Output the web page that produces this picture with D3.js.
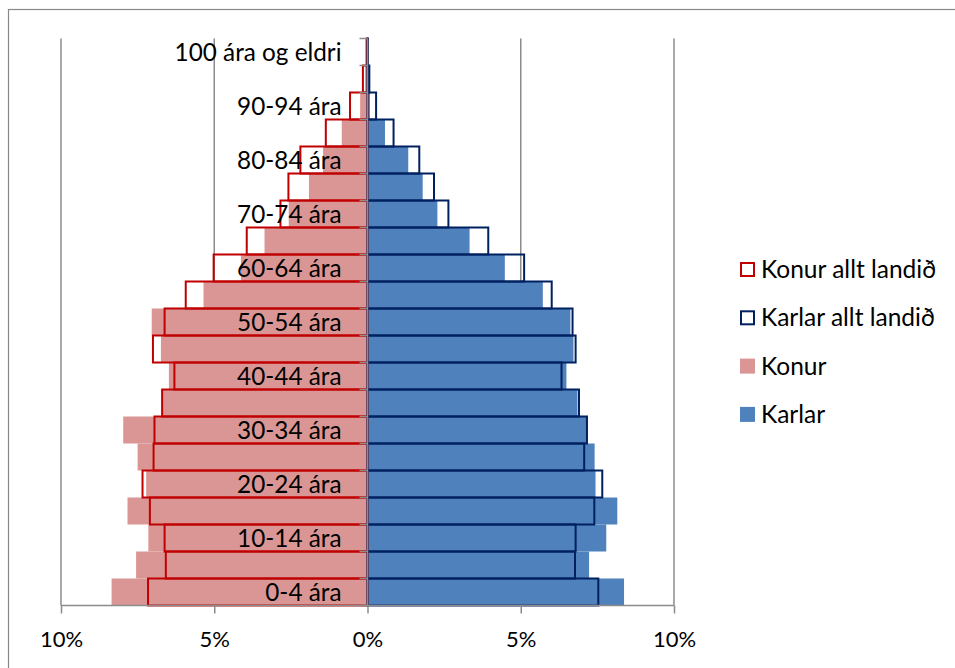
<!DOCTYPE html>
<html>
<head>
<meta charset="utf-8">
<script src="https://cdn.jsdelivr.net/npm/d3@7"></script>
<style>
  body { margin: 0; background: #fff; }
  svg { display: block; font-family: Lato, "Open Sans", sans-serif; }
</style>
</head>
<body>
<div id="root"></div>
<script>
// age groups, youngest first
const ageGroups = [
  "0-4 ára", "5-9 ára", "10-14 ára", "15-19 ára", "20-24 ára", "25-29 ára",
  "30-34 ára", "35-39 ára", "40-44 ára", "45-49 ára", "50-54 ára", "55-59 ára",
  "60-64 ára", "65-69 ára", "70-74 ára", "75-79 ára", "80-84 ára", "85-89 ára",
  "90-94 ára", "95-99 ára", "100 ára og eldri",
];

// percent of population in each group
const konur = [
  8.35, 7.55, 7.15, 7.83, 7.22, 7.50, 7.97, 6.72, 6.48, 6.74, 7.04,
  5.35, 4.13, 3.36, 2.57, 1.91, 1.45, 0.84, 0.24, 0.08, 0.01,
];
const karlar = [
  8.37, 7.23, 7.79, 8.15, 7.44, 7.41, 7.14, 6.85, 6.49, 6.72, 6.62,
  5.72, 4.48, 3.33, 2.28, 1.80, 1.33, 0.57, 0.08, 0.02, 0.00,
];
const konurAllt = [
  7.16, 6.58, 6.62, 7.10, 7.34, 6.98, 6.95, 6.70, 6.30, 7.00, 6.62,
  5.93, 5.02, 3.94, 2.84, 2.58, 2.19, 1.36, 0.57, 0.15, 0.03,
];
const karlarAllt = [
  7.53, 6.77, 6.79, 7.40, 7.66, 7.07, 7.16, 6.90, 6.33, 6.79, 6.69,
  6.01, 5.11, 3.94, 2.64, 2.17, 1.69, 0.85, 0.28, 0.06, 0.01,
];

const xTicks = [-10, -5, 0, 5, 10];

const legendItems = [
  { label: "Konur allt landið", fill: "none", stroke: "#C00000" },
  { label: "Karlar allt landið", fill: "none", stroke: "#002060" },
  { label: "Konur", fill: "#DA9694", stroke: "none" },
  { label: "Karlar", fill: "#4F81BD", stroke: "none" },
];

const width = 955;
const height = 668;
const plot = { left: 61, right: 674, top: 38.5, bottom: 605.5 };
const axisGrey = "#8C8C8C";

const x = d3.scaleLinear([-10, 10], [plot.left, plot.right]);
const y = d3.scaleBand(ageGroups, [plot.bottom, plot.top]).padding(0);

const svg = d3.select("#root").append("svg")
  .attr("width", width)
  .attr("height", height);

// chart frame
svg.append("rect")
  .attr("x", 8.5)
  .attr("y", 9.5)
  .attr("width", width + 20)
  .attr("height", height + 20)
  .attr("fill", "none")
  .attr("stroke", "#888")
  .attr("stroke-width", 1.2);

// vertical gridlines
svg.append("g")
  .selectAll("line")
  .data(xTicks.filter(d => d !== 0))
  .join("line")
  .attr("x1", d => x(d))
  .attr("x2", d => x(d))
  .attr("y1", plot.top)
  .attr("y2", plot.bottom)
  .attr("stroke", axisGrey)
  .attr("stroke-width", 1.5);

const rows = ageGroups.map((g, i) => ({
  group: g,
  konur: konur[i],
  karlar: karlar[i],
  konurAllt: konurAllt[i],
  karlarAllt: karlarAllt[i],
}));

// filled bars
svg.append("g")
  .selectAll("rect")
  .data(rows)
  .join("rect")
  .attr("x", d => x(-d.konur))
  .attr("y", d => y(d.group))
  .attr("width", d => x(0) - x(-d.konur))
  .attr("height", y.bandwidth())
  .attr("fill", "#DA9694");

svg.append("g")
  .selectAll("rect")
  .data(rows)
  .join("rect")
  .attr("x", x(0))
  .attr("y", d => y(d.group))
  .attr("width", d => x(d.karlar) - x(0))
  .attr("height", y.bandwidth())
  .attr("fill", "#4F81BD");

// whole-country outlines
svg.append("g")
  .selectAll("rect")
  .data(rows)
  .join("rect")
  .attr("x", d => x(-d.konurAllt))
  .attr("y", d => y(d.group))
  .attr("width", d => x(0) - x(-d.konurAllt))
  .attr("height", y.bandwidth())
  .attr("fill", "none")
  .attr("stroke", "#C00000")
  .attr("stroke-width", 2);

svg.append("g")
  .selectAll("rect")
  .data(rows)
  .join("rect")
  .attr("x", x(0))
  .attr("y", d => y(d.group))
  .attr("width", d => x(d.karlarAllt) - x(0))
  .attr("height", y.bandwidth())
  .attr("fill", "none")
  .attr("stroke", "#002060")
  .attr("stroke-width", 2);

// category axis at zero
const yAxis = svg.append("g");
yAxis.append("line")
  .attr("x1", x(0))
  .attr("x2", x(0))
  .attr("y1", plot.top)
  .attr("y2", plot.bottom)
  .attr("stroke", axisGrey)
  .attr("stroke-width", 1.5);

yAxis.selectAll("line.tick")
  .data(ageGroups.map(g => y(g)).concat([plot.bottom]))
  .join("line")
  .attr("class", "tick")
  .attr("x1", x(0) - 8)
  .attr("x2", x(0))
  .attr("y1", d => d)
  .attr("y2", d => d)
  .attr("stroke", axisGrey)
  .attr("stroke-width", 1.5);

yAxis.selectAll("text")
  .data(ageGroups.filter((g, i) => i % 2 === 0))
  .join("text")
  .attr("x", x(0) - 26)
  .attr("y", d => y(d) + y.bandwidth() / 2 + 8.5)
  .attr("text-anchor", "end")
  .attr("font-size", 24.3)
  .attr("fill", "#000")
  .text(d => d);

// value axis at bottom
const xAxis = svg.append("g")
  .attr("transform", `translate(0, ${plot.bottom})`)
  .call(d3.axisBottom(x)
    .tickValues(xTicks)
    .tickSize(8)
    .tickPadding(18)
    .tickFormat(d => `${Math.abs(d)}%`));

xAxis.select(".domain")
  .attr("stroke", axisGrey)
  .attr("stroke-width", 1.5)
  .attr("d", `M${plot.left},0H${plot.right}`);
xAxis.selectAll(".tick line")
  .attr("stroke", axisGrey)
  .attr("stroke-width", 1.5);
xAxis.selectAll(".tick text")
  .attr("font-size", 22)
  .attr("font-family", "Lato, sans-serif")
  .attr("fill", "#000");

// legend
const legend = svg.append("g")
  .attr("transform", "translate(740, 262)");

const item = legend.selectAll("g")
  .data(legendItems)
  .join("g")
  .attr("transform", (d, i) => `translate(0, ${i * 48.3})`);

item.append("rect")
  .attr("x", d => d.fill === "none" ? 1 : 0)
  .attr("y", d => d.fill === "none" ? 1 : 0)
  .attr("width", d => d.fill === "none" ? 13 : 15)
  .attr("height", d => d.fill === "none" ? 13 : 15)
  .attr("fill", d => d.fill === "none" ? "#fff" : d.fill)
  .attr("stroke", d => d.stroke)
  .attr("stroke-width", 2);

item.append("text")
  .attr("x", 21)
  .attr("y", 16)
  .attr("font-size", 24.5)
  .attr("fill", "#000")
  .text(d => d.label);
</script>
</body>
</html>
